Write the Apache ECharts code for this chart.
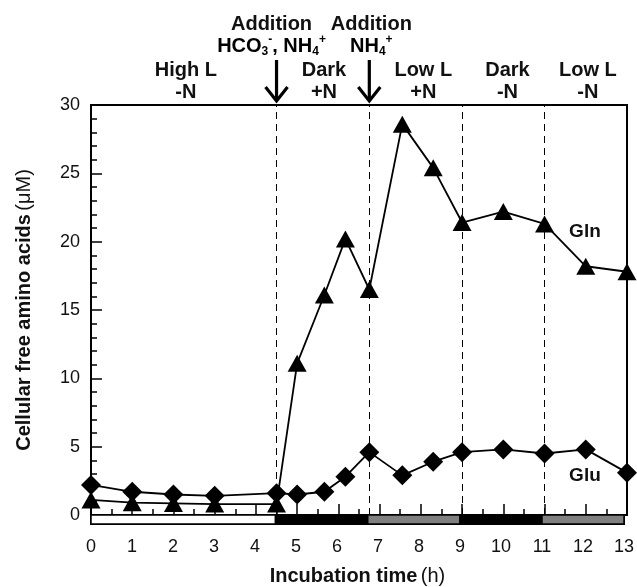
<!DOCTYPE html>
<html><head><meta charset="utf-8">
<script src="https://cdn.jsdelivr.net/npm/echarts@6/dist/echarts.min.js"></script>
<style>html,body{margin:0;padding:0;background:#fff}#c{width:637px;height:587px}</style>
</head><body><div id="c"></div>
<script>
// ---- data ----
const times = [0, 1, 2, 3, 4.5, 5, 5.66, 6.17, 6.75, 7.55, 8.3, 9, 10, 11, 12, 13];
const glnValues = [1.1, 0.9, 0.85, 0.8, 0.8, 11.1, 16.1, 20.2, 16.5, 28.6, 25.4, 21.4, 22.2, 21.3, 18.2, 17.8];
const gluValues = [2.2, 1.7, 1.5, 1.4, 1.6, 1.5, 1.7, 2.8, 4.6, 2.9, 3.9, 4.6, 4.8, 4.5, 4.8, 3.1];
const phaseStart = [0, 4.5, 6.75, 9, 11];
const phaseEnd = [4.5, 6.75, 9, 11, 13];
const phaseLight = ['high', 'dark', 'low', 'dark', 'low'];
const phaseLabelTimes = [2.3, 5.65, 8.06, 10.1, 12.05];
const phaseLabelTop = ['High L', 'Dark', 'Low L', 'Dark', 'Low L'];
const phaseLabelBottom = ['-N', '+N', '+N', '-N', '-N'];
const boundaries = [4.5, 6.75, 9, 11];
const additionTimes = [4.5, 6.75];
const seriesNames = ['Gln', 'Glu'];
const seriesLabelPos = [[11.98, 20.7], [11.98, 2.86]];

const FONT = "'Liberation Sans', Arial, Helvetica, sans-serif";
const lightColor = { high: '#ffffff', dark: '#000000', low: '#808080' };

const chart = echarts.init(document.getElementById('c'), null, { renderer: 'canvas' });

const option = {
  animation: false,
  backgroundColor: '#fff',
  textStyle: { fontFamily: FONT },
  grid: [
    { left: 91, top: 105, width: 536, height: 410, show: true, borderColor: '#000', borderWidth: 2, backgroundColor: 'transparent' },
    { left: 91, top: 515, width: 536, height: 10, show: true, borderColor: '#000', borderWidth: 2, backgroundColor: 'transparent' }
  ],
  xAxis: [
    {
      gridIndex: 0, type: 'value', min: 0, max: 13, interval: 1,
      axisLine: { show: true, lineStyle: { color: '#000', width: 2 } },
      axisTick: { show: true, inside: true, length: 11, lineStyle: { color: '#000', width: 1.5 } },
      minorTick: { show: true, splitNumber: 2, length: 6, lineStyle: { color: '#000', width: 1.5 } },
      axisLabel: { show: false },
      splitLine: { show: false }
    },
    {
      gridIndex: 1, type: 'value', min: 0, max: 13, interval: 1,
      axisLine: { show: false },
      axisTick: { show: false },
      axisLabel: { show: true, margin: 14, fontSize: 18, color: '#111', fontFamily: FONT },
      splitLine: { show: false },
      name: '{b|Incubation time} {r|(h)}',
      nameLocation: 'middle', nameGap: 42,
      nameTextStyle: {
        rich: {
          b: { fontSize: 20, fontWeight: 'bold', color: '#111', fontFamily: FONT },
          r: { fontSize: 20, color: '#111', fontFamily: FONT }
        }
      }
    }
  ],
  yAxis: [
    {
      gridIndex: 0, type: 'value', min: 0, max: 30, interval: 5,
      axisLine: { show: true, lineStyle: { color: '#000', width: 2 } },
      axisTick: { show: true, inside: true, length: 11, lineStyle: { color: '#000', width: 1.5 } },
      minorTick: { show: true, splitNumber: 5, length: 6, lineStyle: { color: '#000', width: 1.5 } },
      axisLabel: { show: true, margin: 11, fontSize: 18, color: '#111', fontFamily: FONT },
      splitLine: { show: false },
      name: '{b|Cellular free amino acids} {r|(μM)}',
      nameLocation: 'middle', nameGap: 57, nameRotate: 90,
      nameTextStyle: {
        rich: {
          b: { fontSize: 20, fontWeight: 'bold', color: '#111', fontFamily: FONT },
          r: { fontSize: 20, color: '#111', fontFamily: FONT }
        }
      }
    },
    { gridIndex: 1, type: 'value', min: 0, max: 1, show: false }
  ],
  series: [
    {
      name: 'phases', type: 'custom', xAxisIndex: 1, yAxisIndex: 1,
      data: phaseStart.map((s, i) => [s, phaseEnd[i], i]),
      renderItem: function (params, api) {
        const i = api.value(2);
        const p0 = api.coord([api.value(0), 1]);
        const p1 = api.coord([api.value(1), 0]);
        return {
          type: 'rect',
          shape: { x: p0[0], y: p0[1], width: p1[0] - p0[0], height: p1[1] - p0[1] },
          style: { fill: lightColor[phaseLight[i]], stroke: '#000', lineWidth: 1.5 }
        };
      },
      silent: true, z: 1
    },
    {
      name: 'Gln', type: 'line', xAxisIndex: 0, yAxisIndex: 0,
      data: times.map((t, i) => [t, glnValues[i]]),
      symbol: 'triangle', symbolSize: [19, 17],
      lineStyle: { color: '#000', width: 1.8 },
      itemStyle: { color: '#000' },
      z: 5,
      markLine: {
        silent: true, symbol: 'none', label: { show: false },
        lineStyle: { color: '#000', width: 1, type: [7, 5] },
        data: boundaries.map(v => ({ xAxis: v })),
        z: 2
      }
    },
    {
      name: 'Glu', type: 'line', xAxisIndex: 0, yAxisIndex: 0,
      data: times.map((t, i) => [t, gluValues[i]]),
      symbol: 'diamond', symbolSize: [20, 20],
      lineStyle: { color: '#000', width: 1.8 },
      itemStyle: { color: '#000' },
      z: 6
    }
  ]
};
chart.setOption(option);

// annotations placed through the axis scale
const graphics = [];
const labelOffsets = [-5, 2];
additionTimes.forEach((t, k) => {
  const x = chart.convertToPixel({ xAxisIndex: 0 }, t);
  graphics.push({
    type: 'polyline', shape: { points: [[x, 60], [x, 101]] },
    style: { stroke: '#000', lineWidth: 3.2, fill: null }
  });
  graphics.push({
    type: 'polyline', shape: { points: [[x - 11, 87], [x, 101], [x + 11, 87]] },
    style: { stroke: '#000', lineWidth: 3.2, fill: null, lineJoin: 'miter' }
  });
  graphics.push({
    type: 'text', x: x + labelOffsets[k], y: 24,
    style: { text: 'Addition', font: 'bold 20px ' + FONT, fill: '#111', align: 'center', verticalAlign: 'middle' }
  });
  graphics.push({
    type: 'text', x: x + labelOffsets[k], y: 46,
    style: {
      text: k === 0 ? '{m|HCO}{s|3}{p|-}{m|, NH}{s|4}{p|+}' : '{m|NH}{s|4}{p|+}',
      align: 'center', verticalAlign: 'middle',
      rich: {
        m: { font: 'bold 20px ' + FONT, color: '#111', lineHeight: 24 },
        s: { font: 'bold 12px ' + FONT, color: '#111', verticalAlign: 'bottom', lineHeight: 24, padding: [9, 0, 0, 0] },
        p: { font: 'bold 12px ' + FONT, color: '#111', verticalAlign: 'top', lineHeight: 24, padding: [0, 0, 9, 0] }
      }
    }
  });
});
phaseLabelTimes.forEach((t, i) => {
  const x = chart.convertToPixel({ xAxisIndex: 0 }, t);
  graphics.push({
    type: 'text', x: x, y: 70,
    style: { text: phaseLabelTop[i], font: 'bold 20px ' + FONT, fill: '#111', align: 'center', verticalAlign: 'middle' }
  });
  graphics.push({
    type: 'text', x: x, y: 92,
    style: { text: phaseLabelBottom[i], font: 'bold 20px ' + FONT, fill: '#111', align: 'center', verticalAlign: 'middle' }
  });
});
seriesNames.forEach((n, i) => {
  const p = chart.convertToPixel({ xAxisIndex: 0, yAxisIndex: 0 }, seriesLabelPos[i]);
  graphics.push({
    type: 'text', x: p[0], y: p[1],
    style: { text: n, font: 'bold 19px ' + FONT, fill: '#111', align: 'center', verticalAlign: 'middle' }
  });
});
chart.setOption({ graphic: graphics });
</script>
</body></html>
